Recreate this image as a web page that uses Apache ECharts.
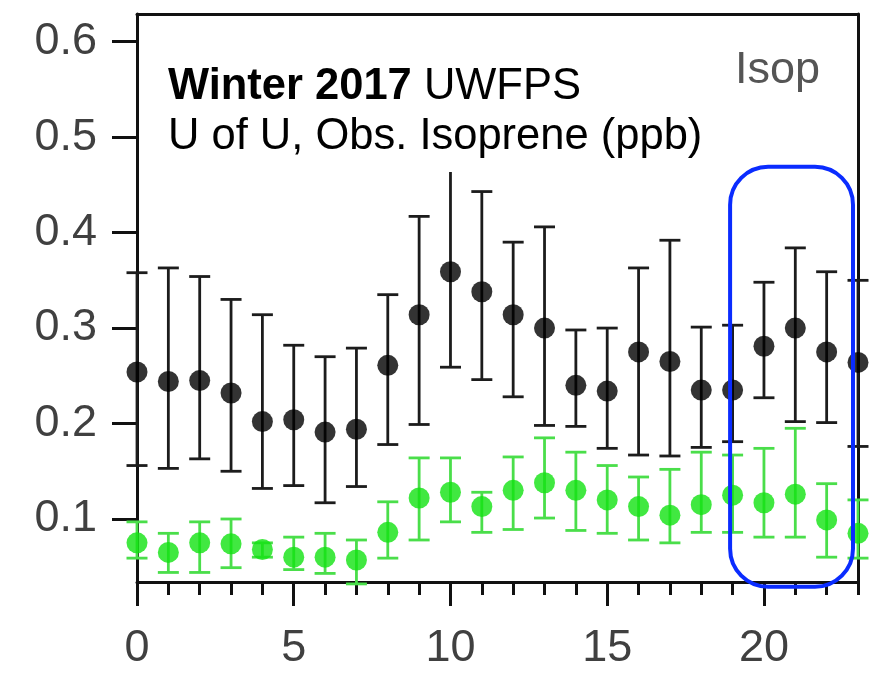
<!DOCTYPE html>
<html>
<head>
<meta charset="utf-8">
<script src="https://cdn.jsdelivr.net/npm/echarts@6/dist/echarts.min.js"></script>
<style>
html,body{margin:0;padding:0;background:#fff;}
#chart{width:881px;height:675px;}
</style>
</head>
<body>
<div id="chart"></div>
<script>
// ---- data ----
const hours = [0,1,2,3,4,5,6,7,8,9,10,11,12,13,14,15,16,17,18,19,20,21,22,23];
const xTickLabels = [0,5,10,15,20];
const yTicks = [0.1,0.2,0.3,0.4,0.5,0.6];

const blackMean = [0.254,0.244,0.245,0.232,0.202,0.204,0.191,0.194,0.261,0.314,0.359,0.338,0.314,0.300,0.240,0.234,0.275,0.265,0.235,0.235,0.281,0.300,0.275,0.264];
const blackLow  = [0.156,0.153,0.163,0.150,0.132,0.135,0.117,0.134,0.178,0.199,0.259,0.246,0.228,0.198,0.197,0.174,0.167,0.166,0.175,0.181,0.227,0.202,0.201,0.176];
const blackHigh = [0.358,0.363,0.354,0.330,0.314,0.282,0.270,0.279,0.335,0.417,0.465,0.443,0.390,0.406,0.298,0.300,0.363,0.392,0.301,0.303,0.348,0.384,0.359,0.350];

const greenMean = [0.075,0.065,0.075,0.074,0.068,0.060,0.060,0.057,0.086,0.122,0.128,0.113,0.130,0.138,0.130,0.120,0.113,0.104,0.115,0.125,0.117,0.126,0.099,0.085];
const greenLow  = [0.059,0.044,0.044,0.049,0.060,0.047,0.043,0.032,0.059,0.078,0.097,0.086,0.089,0.101,0.088,0.085,0.078,0.075,0.086,0.086,0.081,0.081,0.060,0.059];
const greenHigh = [0.097,0.085,0.097,0.100,0.075,0.081,0.085,0.078,0.118,0.164,0.164,0.128,0.165,0.185,0.170,0.156,0.144,0.152,0.170,0.167,0.174,0.195,0.137,0.120];

// highlight box in data units (hour range, value range)
const highlightX = [18.92, 22.84];
const highlightY = [0.029, 0.469];

const titleLine1Bold = 'Winter 2017';
const titleLine1Rest = ' UWFPS';
const titleLine2 = 'U of U, Obs. Isoprene (ppb)';
const panelLabel = 'Isop';

// ---- build ----
const FONT = 'Liberation Sans, Arial, Helvetica, sans-serif';
const AXC = '#111';

function errData(low, high) {
  return hours.map((h, i) => [h, low[i], high[i]]);
}
function ptData(mean) {
  return hours.map((h, i) => [h, mean[i]]);
}
function errorRender(color, width) {
  return function (params, api) {
    const x = api.value(0);
    const lo = api.coord([x, api.value(1)]);
    const hi = api.coord([x, api.value(2)]);
    const cap = 10.5;
    const st = {stroke: color, lineWidth: width};
    return {
      type: 'group',
      children: [
        {type: 'line', shape: {x1: lo[0], y1: lo[1], x2: hi[0], y2: hi[1]}, style: st},
        {type: 'line', shape: {x1: lo[0]-cap, y1: lo[1], x2: lo[0]+cap, y2: lo[1]}, style: st},
        {type: 'line', shape: {x1: hi[0]-cap, y1: hi[1], x2: hi[0]+cap, y2: hi[1]}, style: st}
      ]
    };
  };
}

const chart = echarts.init(document.getElementById('chart'), null, {renderer: 'canvas'});
const option = {
  animation: false,
  backgroundColor: '#fff',
  grid: {left: 137, right: 23, top: 14, bottom: 93},
  xAxis: [
    {
      type: 'value', min: 0, max: 23, position: 'bottom',
      axisLine: {show: true, onZero: false, lineStyle: {color: AXC, width: 3}},
      axisTick: {show: true, customValues: xTickLabels, length: 24, lineStyle: {color: AXC, width: 3}},
      axisLabel: {show: true, customValues: xTickLabels, margin: 44, color: '#404040', fontSize: 45, fontFamily: FONT},
      splitLine: {show: false}
    },
    {
      type: 'value', min: 0, max: 23, position: 'bottom',
      axisLine: {show: false, onZero: false},
      axisTick: {show: true, customValues: hours, length: 13, lineStyle: {color: AXC, width: 3}},
      axisLabel: {show: false},
      splitLine: {show: false}
    },
    {
      type: 'value', min: 0, max: 23, position: 'top',
      axisLine: {show: true, onZero: false, lineStyle: {color: AXC, width: 3}},
      axisTick: {show: false}, axisLabel: {show: false}, splitLine: {show: false}
    }
  ],
  yAxis: [
    {
      type: 'value', min: 0.034, max: 0.629, position: 'left',
      axisLine: {show: true, onZero: false, lineStyle: {color: AXC, width: 3}},
      axisTick: {show: true, customValues: yTicks, length: 25, lineStyle: {color: AXC, width: 3}},
      axisLabel: {show: true, customValues: yTicks, margin: 40, color: '#404040', fontSize: 45, fontFamily: FONT,
        formatter: v => v.toFixed(1)},
      splitLine: {show: false}
    },
    {
      type: 'value', min: 0.034, max: 0.629, position: 'right',
      axisLine: {show: true, onZero: false, lineStyle: {color: AXC, width: 3}},
      axisTick: {show: false}, axisLabel: {show: false}, splitLine: {show: false}
    }
  ],
  series: [
    {type: 'custom', name: 'blackErr', data: errData(blackLow, blackHigh), renderItem: errorRender('#1c1c1c', 2.8), clip: false, z: 2},
    {type: 'scatter', name: 'black', data: ptData(blackMean), symbol: 'circle', symbolSize: 21,
      itemStyle: {color: '#000'}, z: 3},
    {type: 'custom', name: 'greenErr', data: errData(greenLow, greenHigh), renderItem: errorRender('#4ade4a', 2.8), clip: false, z: 4},
    {type: 'scatter', name: 'green', data: ptData(greenMean), symbol: 'circle', symbolSize: 21,
      itemStyle: {color: '#12e212'}, z: 5},
    {type: 'custom', name: 'highlight', data: [[highlightX[0], highlightY[0], highlightX[1], highlightY[1]]], clip: false, z: 20,
      renderItem: function (params, api) {
        const p0 = api.coord([api.value(0), api.value(3)]);
        const p1 = api.coord([api.value(2), api.value(1)]);
        return {type: 'rect', shape: {x: p0[0], y: p0[1], width: p1[0]-p0[0], height: p1[1]-p0[1], r: 38},
          style: {fill: 'none', stroke: '#0a2cff', lineWidth: 4}};
      }}
  ],
  graphic: [
    {type: 'rect', z: 50, shape: {x: 160, y: 55, width: 552, height: 117}, style: {fill: '#fff'}},
    {type: 'text', z: 51, left: 168, top: 62,
      style: {
        text: '{b|' + titleLine1Bold + '}' + titleLine1Rest + '\n' + titleLine2,
        fontSize: 43.5, fontFamily: FONT, fill: '#000', lineHeight: 50,
        rich: {b: {fontSize: 43.5, fontFamily: FONT, fontWeight: 'bold', fill: '#000', lineHeight: 50}}
      }},
    {type: 'text', z: 51, left: 735, top: 48,
      style: {text: panelLabel, fontSize: 45, fontFamily: FONT, fill: '#555'}}
  ]
};
chart.setOption(option);
</script>
</body>
</html>
